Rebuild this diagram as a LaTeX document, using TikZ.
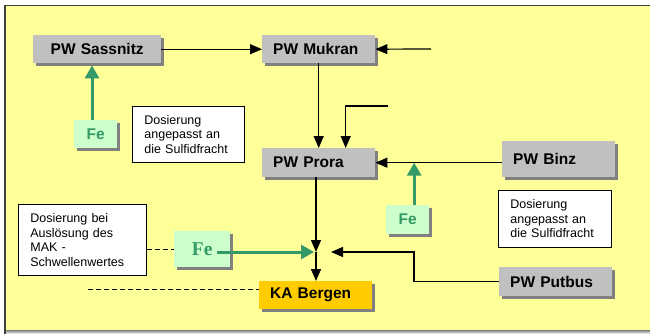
\documentclass[tikz,border=0pt]{standalone}
\usepackage{fontspec}
\setmainfont{Liberation Sans}
\newfontfamily\timesbf{Liberation Serif}
\usetikzlibrary{arrows.meta,positioning,calc,shadows}
\definecolor{paper}{HTML}{FFFF99}
\definecolor{boxgray}{HTML}{C0C0C0}
\definecolor{shade}{HTML}{808080}
\definecolor{dosegreen}{HTML}{339966}
\definecolor{dosefill}{HTML}{CCFFCC}
\definecolor{plant}{HTML}{FFCC00}

\begin{document}
\begin{tikzpicture}[x=1pt, y=-1pt,
    shadowed/.style={drop shadow={shadow xshift=3pt, shadow yshift=-3pt, fill=shade, opacity=1}},
    station/.style={shadowed, fill=boxgray, font=\bfseries\fontsize{15.5}{18}\selectfont, inner xsep=11pt, inner ysep=0pt, minimum height=28pt, align=left, anchor=north west},
    dose/.style={shadowed, fill=dosefill, text=dosegreen, font=\bfseries\fontsize{15.5}{18}\selectfont, inner sep=0pt, anchor=north west},
    note/.style={draw, fill=white, line width=0.8pt, font=\fontsize{12.5}{14.5}\selectfont, inner xsep=12pt, inner ysep=0pt, align=left, anchor=north west},
    arrow/.style={-{Triangle[length=12pt,width=10pt]}, line width=1.2pt},
    feflow/.style={-{Triangle[length=13pt,width=14pt]}, line width=3pt, dosegreen},
    sludgeline/.style={dash pattern=on 5pt off 3pt, line width=1pt}]
  \useasboundingbox (0,0) rectangle (650,334);
  \fill[black!75] (4,5) rectangle (650,334);
  \fill[shade] (6,330) rectangle (650,334);
  \fill[paper] (6,6.5) rectangle (650,329.5);

  \node[station, text width=106pt, align=center] (sassnitz) at (33,35) {PW Sassnitz};
  \node[station, text width=91pt] (mukran) at (262,35) {PW Mukran};
  \node[station, text width=91pt, minimum height=29pt] (prora) at (262,148) {PW Prora};
  \node[station, text width=91pt, minimum height=36pt] (binz) at (502,141) {PW Binz};
  \node[station, text width=91pt, minimum height=29pt] (putbus) at (499,267) {PW Putbus};
  \node[station, fill=plant, text width=91pt] (bergen) at (259,281) {KA Bergen};

  \node[dose, minimum width=43pt, minimum height=28pt] (feSassnitz) at (74,120) {Fe};
  \node[dose, minimum width=43pt, minimum height=29pt] (feBinz) at (386,205) {Fe};
  \node[dose, minimum width=56pt, minimum height=36pt, font=\timesbf\bfseries\fontsize{19.5}{22}\selectfont] (feBergen) at (174,231) {Fe};

  \node[note, text width=88pt, minimum height=56pt] (noteMid) at (132,106) {Dosierung\\angepasst an\\die Sulfidfracht};
  \node[note, text width=89pt, minimum height=57pt] (noteRight) at (498,190) {Dosierung\\angepasst an\\die Sulfidfracht};
  \node[note, text width=104pt, minimum height=71pt] (noteMak) at (18,204) {Dosierung bei\\Auslösung des\\MAK -\\Schwellenwertes};

  \coordinate (mukranIn) at (431,49);
  \coordinate (proraIn) at (388,106);
  \coordinate (mix) at (316,252);
  \coordinate (putbusIn) at (331,252);
  \coordinate (sludge) at (88,289);
  \coordinate (sassnitzDose) at (92,120);
  \coordinate (binzDose) at ($(feBinz.north)+(6.5,0)$);
  \coordinate (bergenDose) at (217,252);

  \draw[arrow] (sassnitz) -- (mukran);
  \draw[arrow] (mukranIn) -- (mukran.east);
  \draw[arrow] (mukran.south) -- (mukran.south |- prora.north);
  \draw[arrow] (proraIn) -| ($(prora.north)+(27,0)$);
  \draw[arrow] (binz.west |- prora.east) -- (prora.east);
  \draw[arrow] (prora.south -| mix) -- (mix);
  \draw[arrow] (mix) -- (bergen.north -| mix);
  \draw[arrow] (putbus.west) -- ++(-85,0) |- (putbusIn);

  \draw[feflow] (sassnitzDose) -- ([yshift=-2pt]sassnitzDose |- sassnitz.south);
  \draw[feflow] (binzDose) -- (binzDose |- prora.east);
  \draw[feflow] (bergenDose) -- ([xshift=-2pt]mix);

  \draw[sludgeline] (noteMak.east |- feBergen.west) -- (feBergen.west);
  \draw[sludgeline] (sludge) -- (sludge -| bergen.west);
\end{tikzpicture}
\end{document}
